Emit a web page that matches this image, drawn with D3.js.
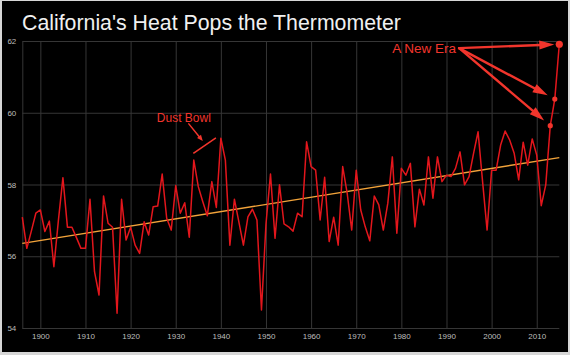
<!DOCTYPE html>
<html><head><meta charset="utf-8">
<script src="https://cdn.jsdelivr.net/npm/d3@7"></script>
<style>html,body{margin:0;padding:0;background:#d6d6d6;} svg{display:block}</style>
</head><body><svg id="c" width="570" height="355"></svg>
<script>
const years = [1896,1897,1898,1899,1900,1901,1902,1903,1904,1905,1906,1907,1908,1909,1910,1911,1912,1913,1914,1915,1916,1917,1918,1919,1920,1921,1922,1923,1924,1925,1926,1927,1928,1929,1930,1931,1932,1933,1934,1935,1936,1937,1938,1939,1940,1941,1942,1943,1944,1945,1946,1947,1948,1949,1950,1951,1952,1953,1954,1955,1956,1957,1958,1959,1960,1961,1962,1963,1964,1965,1966,1967,1968,1969,1970,1971,1972,1973,1974,1975,1976,1977,1978,1979,1980,1981,1982,1983,1984,1985,1986,1987,1988,1989,1990,1991,1992,1993,1994,1995,1996,1997,1998,1999,2000,2001,2002,2003,2004,2005,2006,2007,2008,2009,2010,2011,2012,2013,2014,2015];
const temps = [57.09,56.22,56.70,57.20,57.29,56.69,56.98,55.71,57.00,58.19,56.81,56.81,56.52,56.22,56.22,57.59,55.57,54.92,57.68,56.92,56.81,54.41,57.59,56.45,56.81,56.31,56.08,56.96,56.59,57.38,57.40,58.29,57.06,56.73,57.97,57.20,57.49,56.53,58.68,57.94,57.52,57.13,58.08,57.36,59.29,58.68,56.31,57.59,56.95,56.31,57.10,57.31,57.01,54.50,56.90,58.29,56.50,57.99,56.90,56.82,56.70,57.20,57.10,59.19,58.50,58.40,57.01,58.20,56.41,57.09,56.31,58.50,57.75,56.73,58.40,57.29,56.82,56.43,57.68,57.43,56.73,57.48,58.77,56.64,58.45,58.26,58.59,56.82,57.87,57.43,58.77,57.62,58.77,58.08,58.26,58.22,58.45,58.91,57.99,58.22,58.87,59.47,58.08,56.73,58.40,58.40,59.10,59.49,59.24,58.87,58.13,59.18,58.54,59.27,58.82,57.41,57.99,59.64,60.38,61.91];
const trendYears = [1896, 2015];
const trendTemps = [56.36, 58.75];
const highlightYears = [2013, 2014, 2015];
const xTickValues = [1900,1910,1920,1930,1940,1950,1960,1970,1980,1990,2000,2010];
const yTickValues = [54,56,58,60,62];
const titleText = "California's Heat Pops the Thermometer";
const dustBowlLabel = "Dust Bowl";
const newEraLabel = "A New Era";

const svg = d3.select("#c");
const W = 570, H = 355;
const L = 22.3, R = 559.3, T = 41, B = 328;
const RED = "#e3161c", ANN = "#f2352c", ORANGE = "#f2a33a", GRID = "#363636";

svg.append("rect").attr("x",2).attr("y",1).attr("width",W-4).attr("height",H-4).attr("fill","#000");

const x = d3.scaleLinear().domain([years[0], years[years.length-1]]).range([L, R]);
const y = d3.scaleLinear().domain([54, 62]).range([B, T]);

// grid + axes
const gx = svg.append("g").attr("transform",`translate(0,${B})`)
  .call(d3.axisBottom(x).tickValues(xTickValues).tickFormat(d3.format("d")).tickSize(-(B-T)).tickSizeOuter(0).tickPadding(5));
const gy = svg.append("g").attr("transform",`translate(${L},0)`)
  .call(d3.axisLeft(y).tickValues(yTickValues).tickSize(-(R-L)).tickSizeOuter(0).tickPadding(6));
[gx, gy].forEach(g => {
  g.selectAll(".tick line").attr("stroke", GRID).attr("stroke-width", 1);
  g.selectAll(".domain").attr("stroke", GRID);
  g.selectAll("text").attr("fill","#bdbdbd").attr("font-family","Liberation Sans, Arial, sans-serif").attr("font-size", 8);
});
gx.select(".domain").remove();

// trend
svg.append("path").datum(trendYears.map((yr,i)=>[yr, trendTemps[i]]))
  .attr("d", d3.line().x(d=>x(d[0])).y(d=>y(d[1])))
  .attr("fill","none").attr("stroke", ORANGE).attr("stroke-width", 1.4);

// temperature line
const pts = years.map((yr,i)=>[yr, temps[i]]);
svg.append("path").datum(pts)
  .attr("d", d3.line().x(d=>x(d[0])).y(d=>y(d[1])))
  .attr("fill","none").attr("stroke", RED).attr("stroke-width", 1.5).attr("stroke-linejoin","round");

// highlight dots
const hl = pts.filter(d => highlightYears.includes(d[0]));
svg.selectAll("circle.hl").data(hl).enter().append("circle")
  .attr("cx", d=>x(d[0])).attr("cy", d=>y(d[1]))
  .attr("r", (d,i)=> i===hl.length-1 ? 3.6 : 2.6).attr("fill", ANN);

function arrow(x1,y1,x2,y2,lw,hl_,hw,color){
  const dx=x2-x1, dy=y2-y1, len=Math.hypot(dx,dy), ux=dx/len, uy=dy/len;
  const bx=x2-ux*hl_, by=y2-uy*hl_;
  svg.append("line").attr("x1",x1).attr("y1",y1).attr("x2",bx+ux*1).attr("y2",by+uy*1)
    .attr("stroke",color).attr("stroke-width",lw).attr("stroke-linecap","round");
  svg.append("polygon").attr("points",
    [[x2,y2],[bx-uy*hw/2,by+ux*hw/2],[bx+uy*hw/2,by-ux*hw/2]].map(p=>p.join(",")).join(" "))
    .attr("fill",color);
}

// A New Era
const eraX = x(1992.1), eraY = y(61.67);
svg.append("text").attr("x", eraX).attr("y", eraY).attr("text-anchor","end")
  .attr("fill", ANN).attr("font-family","Liberation Sans, Arial, sans-serif").attr("font-size", 13.5).text(newEraLabel);
const ox = x(1992.8), oy = y(61.8);
hl.forEach((d,i) => {
  const px = x(d[0]), py = y(d[1]);
  const dx = px-ox, dy = py-oy, len = Math.hypot(dx,dy);
  const gap = i===hl.length-1 ? 5 : 8;
  arrow(ox, oy, px - dx/len*gap, py - dy/len*gap, 2.4, 15, 9, ANN);
});

// Dust Bowl
svg.append("text").attr("x", x(1931.8)).attr("y", y(59.74)).attr("text-anchor","middle")
  .attr("fill", ANN).attr("font-family","Liberation Sans, Arial, sans-serif").attr("font-size", 12).text(dustBowlLabel);
arrow(x(1932.9), y(59.69), x(1936.0), y(59.21), 1.5, 6, 5, ANN);
svg.append("line").attr("x1", x(1933.9)).attr("y1", y(58.87)).attr("x2", x(1938.9)).attr("y2", y(59.30))
  .attr("stroke", ANN).attr("stroke-width", 1.6);

// title
svg.append("text").attr("x", 22).attr("y", 30).attr("fill","#f0f0f0")
  .attr("font-family","Liberation Sans, Arial, sans-serif").attr("font-size", 21.3).text(titleText);
</script></body></html>
